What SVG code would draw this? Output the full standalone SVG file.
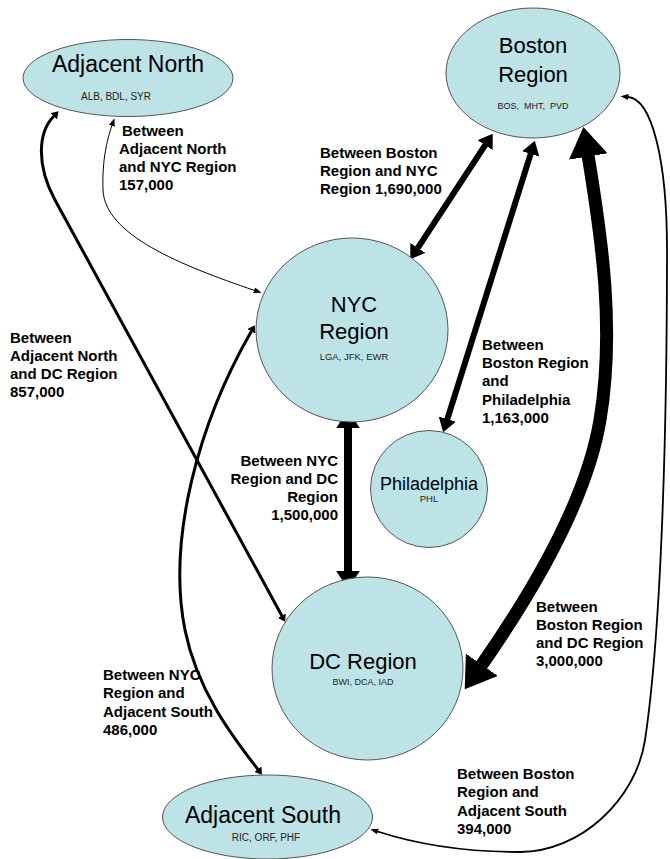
<svg xmlns="http://www.w3.org/2000/svg" width="670" height="859" viewBox="0 0 670 859">
<style>
.node{fill:#bde3e6;stroke:#555;stroke-width:1}
.title{font-family:"Liberation Sans",Arial,sans-serif;font-size:22px;fill:#000;text-anchor:middle}
.big{font-size:23px}
.phl{font-size:18px}
.codes{font-family:"Liberation Sans",Arial,sans-serif;font-size:9.5px;fill:#222;text-anchor:middle}
.c10{font-size:10px}
.c9{font-size:9px}
.lbl{font-family:"Liberation Sans",Arial,sans-serif;font-size:15px;font-weight:bold;fill:#000}
.c{fill:none;stroke:#000}
</style>
<defs>
<marker id="ah" viewBox="0 0 10 10" refX="0.5" refY="5" markerWidth="2.3" markerHeight="3" orient="auto-start-reverse" preserveAspectRatio="none"><path d="M0,0 L10,5 L0,10 z" fill="#000"/></marker>
<marker id="at" viewBox="0 0 10 10" refX="0.5" refY="5" markerUnits="userSpaceOnUse" markerWidth="8" markerHeight="6" orient="auto-start-reverse" preserveAspectRatio="none"><path d="M0,0 L10,5 L0,10 z" fill="#000"/></marker>
</defs>
<rect width="670" height="859" fill="#fff"/>

<g id="connectors">
<path class="c" stroke-width="1" marker-start="url(#at)" marker-end="url(#at)" d="M254.4,290.4 C180,265 105,235 103,190 C102,160 107,140 112,125.4"/>
<path class="c" stroke-width="3" marker-start="url(#ah)" marker-end="url(#ah)" d="M54,116 C38,132 36,165 55,200 L282,616"/>
<path class="c" stroke-width="3" marker-start="url(#ah)" marker-end="url(#ah)" d="M251.5,331 C198,424 167,540 185,630 C197,690 232,736 258,769.5"/>
<path class="c" stroke-width="6" marker-start="url(#ah)" marker-end="url(#ah)" d="M485.5,144.6 L417.5,248.4"/>
<path class="c" stroke-width="6" marker-start="url(#ah)" marker-end="url(#ah)" d="M530.9,153.2 L447.1,419.8"/>
<path class="c" stroke-width="8" marker-start="url(#ah)" marker-end="url(#ah)" d="M348,427.4 L348,571.6"/>
<path class="c" stroke-width="13" marker-start="url(#ah)" marker-end="url(#ah)" d="M588,155 C602,240 615,330 600,420 C590,480 555,560 481,666"/>
<path class="c" stroke-width="1.8" marker-start="url(#at)" marker-end="url(#at)" d="M628,97 C652,99 667,160 667,250 C667,400 663,620 645,740 C636,800 580,852 520,852 C460,852 410,842 377.6,831.5"/>
</g>

<g id="adjacent-north">
<ellipse class="node" cx="128" cy="78" rx="105" ry="38.5"/>
<text class="title big" x="128" y="72">Adjacent North</text>
<text class="codes c10" x="116" y="100">ALB, BDL, SYR</text>
</g>

<g id="boston">
<ellipse class="node" cx="533" cy="73" rx="87" ry="65"/>
<text class="title" x="533" y="53">Boston</text>
<text class="title" x="533" y="82">Region</text>
<text class="codes c9" x="533" y="109" xml:space="preserve">BOS,  MHT,  PVD</text>
</g>

<g id="nyc">
<ellipse class="node" cx="352" cy="330" rx="96" ry="92"/>
<text class="title" x="354" y="312">NYC</text>
<text class="title" x="354" y="339">Region</text>
<text class="codes" x="354" y="360">LGA, JFK, EWR</text>
</g>

<g id="philadelphia">
<circle class="node" cx="429" cy="489" r="58.5"/>
<text class="title phl" x="429" y="490">Philadelphia</text>
<text class="codes" x="429" y="502">PHL</text>
</g>

<g id="dc">
<ellipse class="node" cx="367.5" cy="668.5" rx="95.5" ry="91.5"/>
<text class="title" x="363" y="669">DC Region</text>
<text class="codes c9" x="363" y="685">BWI, DCA, IAD</text>
</g>

<g id="adjacent-south">
<ellipse class="node" cx="267.5" cy="817" rx="105" ry="42"/>
<text class="title big" x="263" y="823">Adjacent South</text>
<text class="codes c10" x="266" y="841">RIC, ORF, PHF</text>
</g>

<g id="labels">
<text class="lbl"><tspan x="122" y="135.5">Between</tspan><tspan x="119" y="153.5">Adjacent North</tspan><tspan x="119" y="171.5">and NYC Region</tspan><tspan x="119" y="189.5">157,000</tspan></text>
<text class="lbl"><tspan x="320" y="158">Between Boston</tspan><tspan x="320" y="176">Region and NYC</tspan><tspan x="320" y="194">Region 1,690,000</tspan></text>
<text class="lbl"><tspan x="10" y="342.5">Between</tspan><tspan x="10" y="360.7">Adjacent North</tspan><tspan x="10" y="378.9">and DC Region</tspan><tspan x="10" y="397.1">857,000</tspan></text>
<text class="lbl"><tspan x="482" y="350">Between</tspan><tspan x="482" y="368.2">Boston Region</tspan><tspan x="482" y="386.4">and</tspan><tspan x="482" y="404.6">Philadelphia</tspan><tspan x="482" y="422.8">1,163,000</tspan></text>
<text class="lbl" text-anchor="end"><tspan x="338" y="465.5">Between NYC</tspan><tspan x="338" y="483.7">Region and DC</tspan><tspan x="338" y="501.9">Region</tspan><tspan x="338" y="520.1">1,500,000</tspan></text>
<text class="lbl"><tspan x="536" y="611.5">Between</tspan><tspan x="536" y="629.5">Boston Region</tspan><tspan x="536" y="647.5">and DC Region</tspan><tspan x="536" y="665.5">3,000,000</tspan></text>
<text class="lbl"><tspan x="103" y="680">Between NYC</tspan><tspan x="103" y="698.3">Region and</tspan><tspan x="103" y="716.6">Adjacent South</tspan><tspan x="103" y="734.9">486,000</tspan></text>
<text class="lbl"><tspan x="457" y="779">Between Boston</tspan><tspan x="457" y="797.3">Region and</tspan><tspan x="457" y="815.6">Adjacent South</tspan><tspan x="457" y="833.9">394,000</tspan></text>
</g>
</svg>
